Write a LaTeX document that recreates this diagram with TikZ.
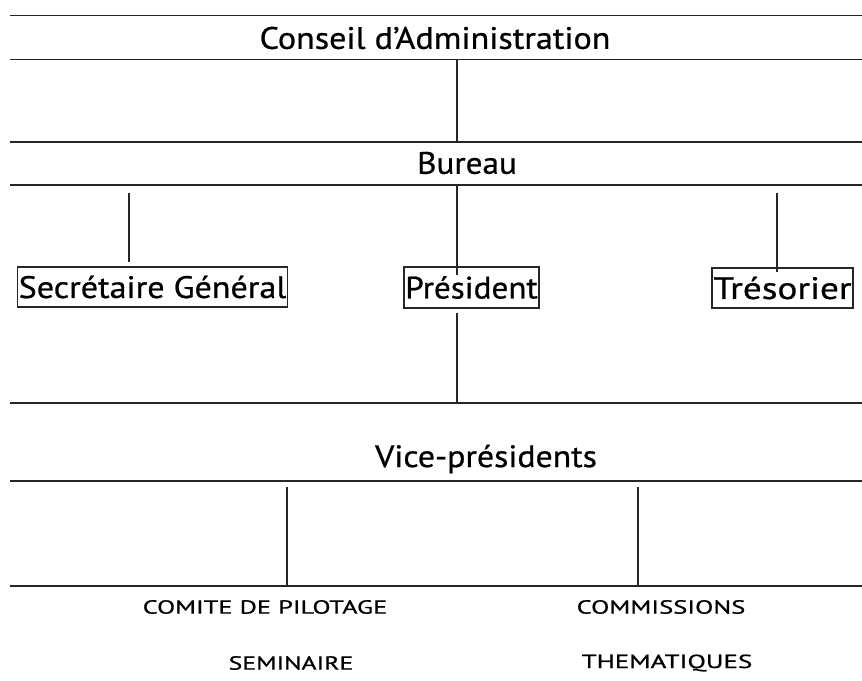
\documentclass[tikz,border=0pt]{standalone}
\usepackage{fontspec}
\setmainfont{PT Sans}[FakeBold=0.7]
\newcommand{\sx}[2]{\scalebox{#1}[1]{#2}}
\begin{document}
\begin{tikzpicture}[x=1pt,y=-1pt,
  hline/.style={line width=1.8pt,draw=black!85},
  vline/.style={line width=1.3pt,draw=black!85},
  big/.style={font=\fontsize{31}{33}\selectfont,inner sep=0pt},
  boxed/.style={draw=black!85,line width=1.3pt,font=\fontsize{31}{33}\selectfont,inner sep=1pt,anchor=center},
  small/.style={font=\fontsize{19}{21}\selectfont,inner sep=0pt}]
\useasboundingbox (0,0) rectangle (862,680);
% horizontal band lines
\foreach \y in {15.5,59.5,142,185,403,481,586}
  \draw[hline] (10,\y) -- (862,\y);
% texts
\node[big] (conseil) at (435,38) {\sx{1.10}{Conseil d’Administration}};
\node[big] (bureau) at (467,163) {\sx{1.07}{Bureau}};
\node[boxed,minimum width=270pt,minimum height=40pt] (sg) at (152.5,287) {\sx{1.10}{Secrétaire Général}};
\node[boxed,minimum width=135pt,minimum height=41pt] (pres) at (471.5,287.5) {\sx{1.07}{Président}};
\node[boxed,minimum width=141pt,minimum height=40pt] (tres) at (782.5,288) {\sx{1.2}{Trésorier}};
\node[big] (vp) at (486,459) {\sx{1.09}{Vice-présidents}};
\node[small] (comite) at (265,607) {\sx{1.39}{COMITE DE PILOTAGE}};
\node[small] (semin) at (291,663) {\sx{1.36}{SEMINAIRE}};
\node[small] (commis) at (661,607) {\sx{1.4}{COMMISSIONS}};
\node[small] (thema) at (667,663) {\sx{1.42}{THEMATIQUES}};
% connection points on the lines
\coordinate (cb) at (457,59.5);
\coordinate (bt) at (457,142);
\coordinate (bb) at (457,185);
\coordinate (presin) at (457,275);
\coordinate (sgt) at (129,193);
\coordinate (sgb) at (129,262);
\coordinate (trt) at (777,193);
\coordinate (trb) at (777,272);
\coordinate (presout) at (457,313);
\coordinate (vpt) at (457,403);
\coordinate (vpb1) at (287,487);
\coordinate (vpb2) at (638,487);
\coordinate (bot1) at (287,586);
\coordinate (bot2) at (638,586);
% connectors
\draw[vline] (cb) -- (bt);
\draw[vline] (bb) -- (presin);
\draw[vline] (sgt) -- (sgb);
\draw[vline] (trt) -- (trb);
\draw[vline] (presout) -- (vpt);
\draw[vline] (vpb1) -- (bot1);
\draw[vline] (vpb2) -- (bot2);
\end{tikzpicture}
\end{document}
